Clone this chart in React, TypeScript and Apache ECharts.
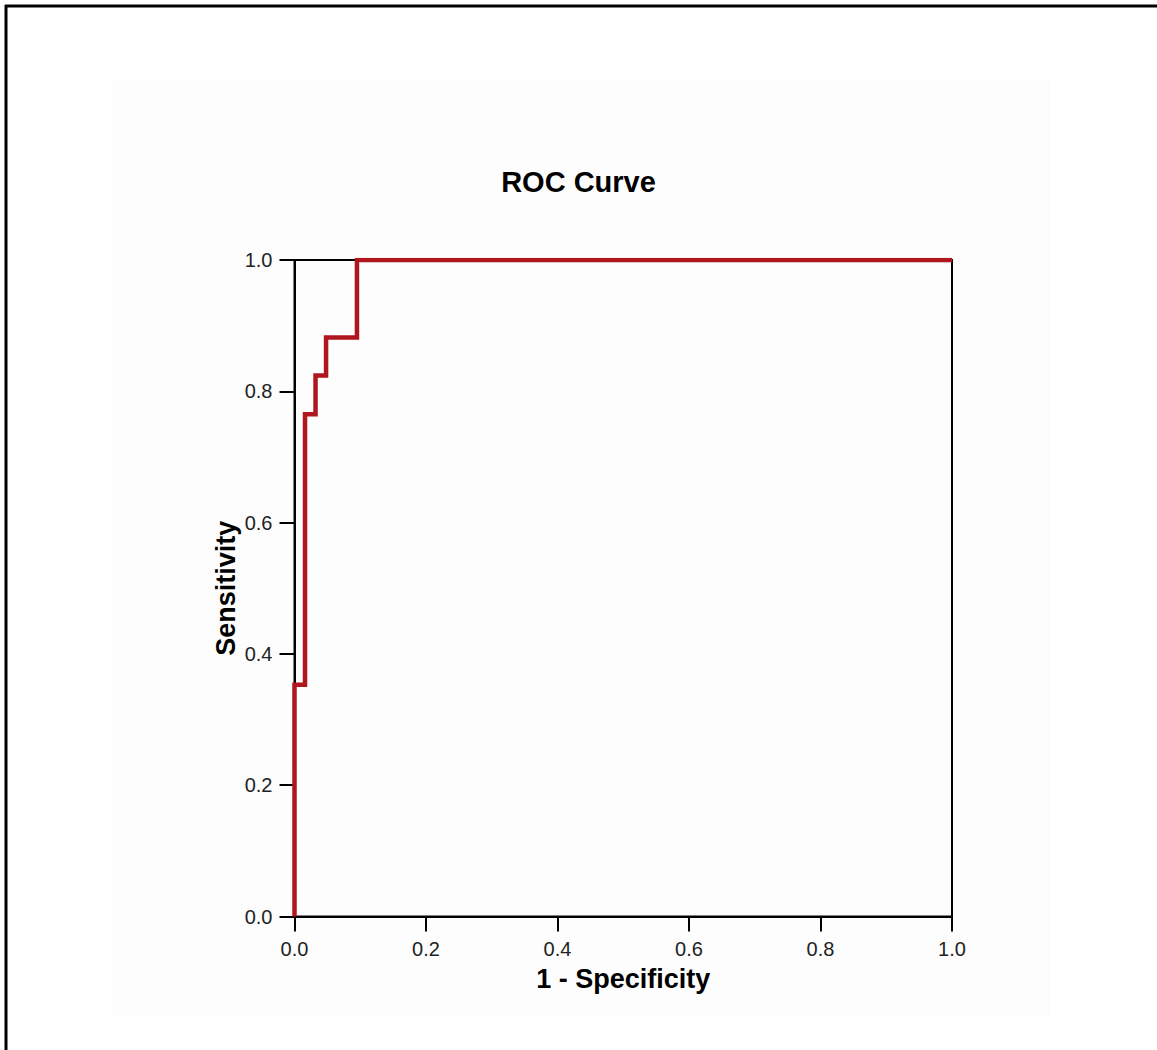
import React, { useEffect, useRef } from "react";
import * as echarts from "echarts";

const titleText = "ROC Curve";
const xAxisName = "1 - Specificity";
const yAxisName = "Sensitivity";
const tickValues = [0, 0.2, 0.4, 0.6, 0.8, 1.0];

// ROC step curve: 1 - specificity (x) and sensitivity (y)
const fpr = [0, 0, 0.016, 0.016, 0.032, 0.032, 0.048, 0.048, 0.095, 0.095, 1.0];
const tpr = [0, 0.353, 0.353, 0.765, 0.765, 0.824, 0.824, 0.882, 0.882, 1.0, 1.0];

const W = 1157;
const H = 1050;

export default function App() {
  const ref = useRef<HTMLDivElement>(null);

  useEffect(() => {
    if (!ref.current) return;
    const chart = echarts.init(ref.current, null, { renderer: "svg" });
    const font = "'Liberation Sans', Arial, sans-serif";
    const data = fpr.map((x, i) => [x, tpr[i]]);
    chart.setOption({
      animation: false,
      backgroundColor: "#ffffff",
      title: {
        text: titleText,
        left: "center",
        top: 162,
        textStyle: { fontFamily: font, fontSize: 29, fontWeight: "bold", color: "#000" },
      },
      grid: {
        left: 294.5,
        right: W - 952,
        top: 260,
        bottom: H - 916.5,
        show: true,
        borderColor: "#000",
        borderWidth: 2,
        backgroundColor: "transparent",
      },
      graphic: [
        {
          type: "rect",
          z: -10,
          silent: true,
          shape: { x: 113, y: 80, width: 937, height: 936 },
          style: { fill: "#fdfdfd" },
        },
        {
          type: "line",
          silent: true,
          shape: { x1: 6, y1: 5, x2: 6, y2: H },
          style: { stroke: "#000", lineWidth: 3 },
        },
        {
          type: "line",
          silent: true,
          shape: { x1: 5, y1: 6, x2: W, y2: 6 },
          style: { stroke: "#000", lineWidth: 3 },
        },
      ],
      xAxis: {
        type: "value",
        min: 0,
        max: 1,
        interval: 0.2,
        name: xAxisName,
        nameLocation: "middle",
        nameGap: 49,
        nameMoveOverlap: false,
        nameTextStyle: { fontFamily: font, fontSize: 27, fontWeight: "bold", color: "#000" },
        axisLine: { show: true, lineStyle: { color: "#000", width: 2 } },
        axisTick: { show: true, length: 15, lineStyle: { color: "#000", width: 2 } },
        axisLabel: {
          fontFamily: font,
          fontSize: 20,
          color: "#222",
          margin: 22,
          formatter: (v: number) => v.toFixed(1),
          customValues: tickValues,
        },
        splitLine: { show: false },
      },
      yAxis: {
        type: "value",
        min: 0,
        max: 1,
        interval: 0.2,
        name: yAxisName,
        nameLocation: "middle",
        nameGap: 55,
        nameRotate: 90,
        nameMoveOverlap: false,
        nameTextStyle: { fontFamily: font, fontSize: 27, fontWeight: "bold", color: "#000" },
        axisLine: { show: true, lineStyle: { color: "#000", width: 2 } },
        axisTick: { show: true, length: 15, lineStyle: { color: "#000", width: 2 } },
        axisLabel: {
          fontFamily: font,
          fontSize: 20,
          color: "#222",
          margin: 22,
          formatter: (v: number) => v.toFixed(1),
        },
        splitLine: { show: false },
      },
      series: [
        {
          type: "line",
          data,
          showSymbol: false,
          symbol: "none",
          lineStyle: { color: "#b0161e", width: 4.5, join: "miter", cap: "butt" },
          z: 5,
        },
      ],
    });
    return () => chart.dispose();
  }, []);

  return (
    <div
      ref={ref}
      style={{ position: "absolute", left: 0, top: 0, width: W, height: H }}
    />
  );
}
